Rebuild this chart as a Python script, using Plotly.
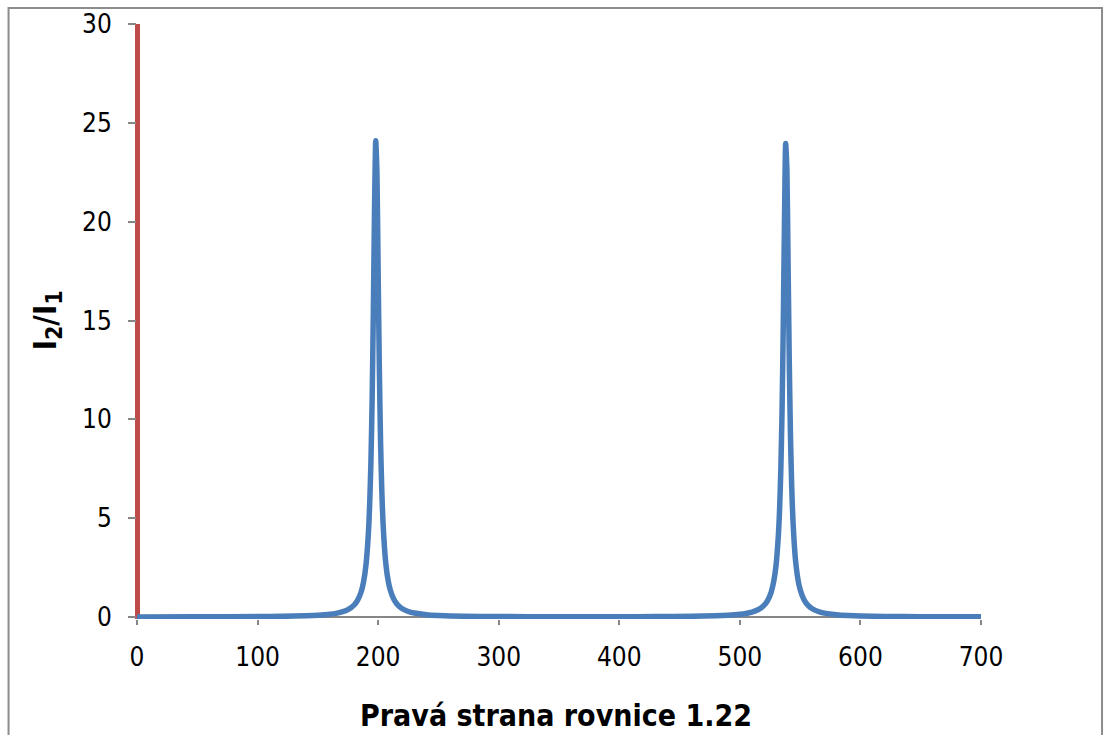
import plotly.graph_objects as go

# Data
x_vals = [0, 50, 100, 120, 140, 150, 160, 165, 170, 175, 180, 183, 186, 188, 190,
          192, 193, 194, 195, 196, 197, 198, 199, 200, 201, 202, 203, 204, 206, 208,
          210, 213, 216, 220, 225, 230, 240, 250, 270, 300, 350, 400, 430, 460, 480,
          490, 500, 505, 510, 515, 520, 523, 526, 528, 530, 532, 533, 534, 535, 536,
          537, 538, 539, 540, 541, 542, 543, 544, 546, 548, 550, 553, 556, 560, 565,
          570, 580, 590, 600, 620, 650, 700]
y_vals = [0.006, 0.010, 0.022, 0.034, 0.061, 0.089, 0.14, 0.185, 0.256, 0.372, 0.60, 0.85, 1.29, 1.81, 2.69,
          4.34, 5.75, 7.81, 10.91, 15.36, 20.66, 24.10, 22.49, 17.47, 12.53, 8.91, 6.47, 4.84, 2.94, 1.95,
          1.38, 0.895, 0.627, 0.421, 0.280, 0.200, 0.116, 0.076, 0.039, 0.023, 0.015, 0.016, 0.021, 0.036, 0.062,
          0.089, 0.139, 0.181, 0.249, 0.366, 0.588, 0.833, 1.265, 1.77, 2.61, 4.20, 5.53, 7.50, 10.46, 14.73,
          19.98, 23.95, 22.68, 17.86, 12.86, 9.13, 6.62, 4.94, 2.98, 1.97, 1.39, 0.899, 0.630, 0.421, 0.280,
          0.199, 0.115, 0.075, 0.053, 0.030, 0.016, 0.008]

x_ticks = [0, 100, 200, 300, 400, 500, 600, 700]
y_ticks = [0, 5, 10, 15, 20, 25, 30]

x_title = "Pravá strana rovnice 1.22"
y_title = "I<sub>2</sub>/I<sub>1</sub>"

NARROW = "Liberation Sans Narrow, Arial Narrow, DejaVu Sans Condensed, Roboto Condensed, sans-serif"
GRAY = "#868686"

fig = go.Figure()
fig.add_trace(go.Scatter(
    x=x_vals, y=y_vals, mode="lines",
    line=dict(color="#4A7EBB", width=5.5, shape="spline", smoothing=0.6),
    showlegend=False, hoverinfo="skip",
))

fig.update_layout(
    width=1105, height=735,
    margin=dict(l=137, r=124, t=24, b=116, autoexpand=False),
    paper_bgcolor="white", plot_bgcolor="white",
    font=dict(family=NARROW, color="black"),
    xaxis=dict(
        range=[0, 700], tickvals=x_ticks, ticktext=[str(v) for v in x_ticks],
        showgrid=False, showline=False, automargin=False,
        zeroline=True, zerolinecolor="#BE4B48", zerolinewidth=5,
        ticks="outside", ticklen=5, tickwidth=1.5, tickcolor=GRAY,
        tickfont=dict(size=26, family=NARROW), ticklabelstandoff=10,
        fixedrange=True,
    ),
    yaxis=dict(
        range=[-0.1, 30], tickvals=y_ticks, ticktext=[str(v) for v in y_ticks],
        showgrid=False, showline=False, automargin=False,
        zeroline=True, zerolinecolor=GRAY, zerolinewidth=1.5,
        ticks="outside", ticklen=8, tickwidth=1.5, tickcolor=GRAY,
        tickfont=dict(size=26, family=NARROW), ticklabelstandoff=11,
        fixedrange=True,
    ),
    annotations=[
        dict(text="<b>" + x_title + "</b>", xref="paper", yref="paper",
             x=0.497, y=-0.162, xanchor="center", yanchor="middle", showarrow=False,
             font=dict(size=30, family=NARROW, color="black")),
        dict(text="<b>" + y_title + "</b>", xref="paper", yref="paper",
             x=-0.1066, y=0.5017, xanchor="center", yanchor="middle", showarrow=False,
             textangle=-90, font=dict(size=32, family=NARROW, color="black")),
    ],
    shapes=[dict(type="rect", xref="paper", yref="paper",
                 x0=-0.1522, x1=1.1434, y0=-0.22, y1=1.0269,
                 line=dict(color="#8C8C8C", width=2), fillcolor="rgba(0,0,0,0)", layer="above")],
)

fig.write_html("out.html")
